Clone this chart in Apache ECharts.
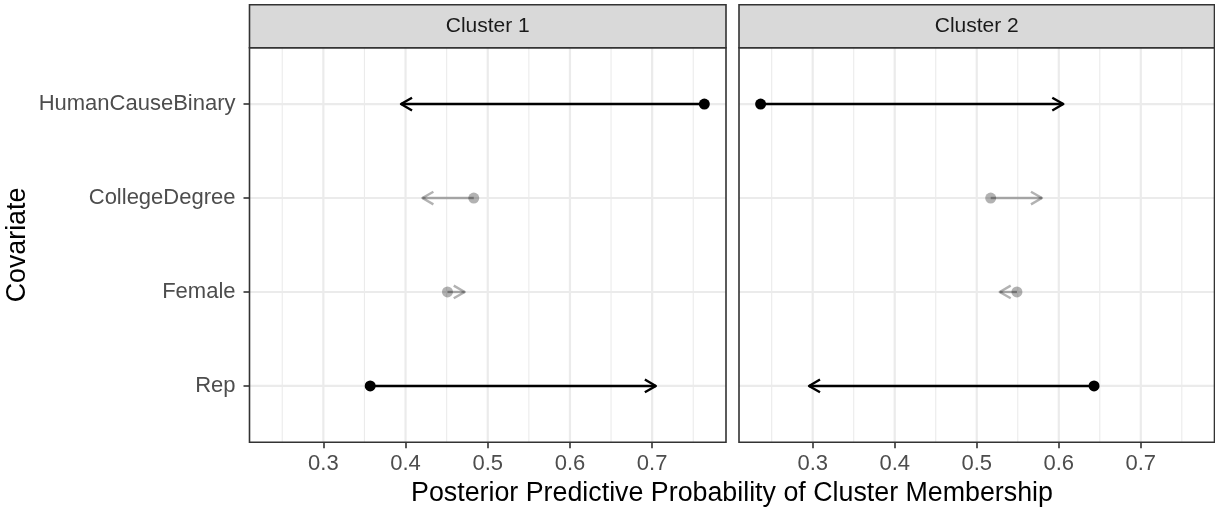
<!DOCTYPE html>
<html>
<head>
<meta charset="utf-8">
<script src="https://cdn.jsdelivr.net/npm/echarts@6/dist/echarts.min.js"></script>
<style>
  html, body { margin: 0; padding: 0; background: #fff; }
  #chart { width: 1215px; height: 508px; }
</style>
</head>
<body>
<div id="chart"></div>
<script>
// Covariates, bottom to top on the y axis
const covariates = ['Rep', 'Female', 'CollegeDegree', 'HumanCauseBinary'];
const significant = [true, false, false, true];

// Posterior predictive probability: baseline (dot) and shifted value (arrow tip)
const cluster1From = [0.357, 0.451, 0.483, 0.7635];
const cluster1To   = [0.7045, 0.472, 0.4205, 0.3945];
const cluster2From = [0.643, 0.549, 0.517, 0.2365];
const cluster2To   = [0.2955, 0.528, 0.5795, 0.6055];

const panelTitles = ['Cluster 1', 'Cluster 2'];
const majorTicks = [0.3, 0.4, 0.5, 0.6, 0.7];
const minorTicks = [0.25, 0.35, 0.45, 0.55, 0.65, 0.75];

const FONT = '"Liberation Sans", Arial, Helvetica, sans-serif';

// shared x range with 5% padding on each side
const allVals = cluster1From.concat(cluster1To, cluster2From, cluster2To);
const lo = Math.min.apply(null, allVals), hi = Math.max.apply(null, allVals);
const pad = (hi - lo) * 0.05;
const xMin = lo - pad, xMax = hi + pad;
const yMin = 0.4, yMax = covariates.length + 0.6;

const panels = [
  { left: 249.5, width: 476.5 },
  { left: 739, width: 475.5 }
];
const panelTop = 47.7, panelBottom = 442.3;
const stripTop = 4.7;

function arrowRows(from, to) {
  return covariates.map((c, i) => [from[i], to[i], i + 1, significant[i] ? 1 : 0]);
}

const gridRows = majorTicks.map(v => [v, 1])
  .concat(minorTicks.map(v => [v, 0]))
  .concat(covariates.map((c, i) => [i + 1, 2]));

function renderGrid(params, api) {
  const cs = params.coordSys;
  const v = api.value(0), kind = api.value(1);
  if (kind === 2) {
    const y = api.coord([xMin, v])[1];
    return { type: 'line', shape: { x1: cs.x, y1: y, x2: cs.x + cs.width, y2: y },
      style: { stroke: '#EBEBEB', lineWidth: 2.2 } };
  }
  const x = api.coord([v, 1])[0];
  return { type: 'line', shape: { x1: x, y1: cs.y, x2: x, y2: cs.y + cs.height },
    style: { stroke: '#EBEBEB', lineWidth: kind === 1 ? 2.2 : 1.1 } };
}

function renderArrow(params, api) {
  const from = api.value(0), to = api.value(1), y = api.value(2), sig = api.value(3);
  const p0 = api.coord([from, y]);
  const p1 = api.coord([to, y]);
  const color = sig ? '#000000' : 'rgba(0,0,0,0.3)';
  const dir = p1[0] >= p0[0] ? 1 : -1;
  const L = 12.7, ang = Math.PI / 6;
  const bx = p1[0] - dir * L * Math.cos(ang);
  const dy = L * Math.sin(ang);
  return {
    type: 'group',
    children: [
      { type: 'line', shape: { x1: p0[0], y1: p0[1], x2: p1[0], y2: p1[1] },
        style: { stroke: color, lineWidth: 2.4 } },
      { type: 'polyline', shape: { points: [[bx, p1[1] - dy], [p1[0], p1[1]], [bx, p1[1] + dy]] },
        style: { stroke: color, lineWidth: 2.4, fill: null, lineJoin: 'round' } },
      { type: 'circle', shape: { cx: p0[0], cy: p0[1], r: 5.5 },
        style: { fill: color } }
    ]
  };
}

const grids = panels.map(p => ({
  left: p.left, width: p.width, top: panelTop, height: panelBottom - panelTop,
  show: true, backgroundColor: '#FFFFFF', borderWidth: 0
}));

const xAxes = panels.map((p, i) => ({
  type: 'value', gridIndex: i, min: xMin, max: xMax,
  axisLine: { show: false },
  splitLine: { show: false },
  axisTick: { show: true, customValues: majorTicks, length: 6, lineStyle: { color: '#333333', width: 1.6 } },
  axisLabel: { show: true, customValues: majorTicks, color: '#4D4D4D', fontSize: 22, fontFamily: FONT, margin: 11,
    formatter: v => v.toFixed(1) }
}));

const yAxes = panels.map((p, i) => ({
  type: 'value', gridIndex: i, min: yMin, max: yMax,
  axisLine: { show: false },
  splitLine: { show: false },
  axisTick: { show: i === 0, customValues: covariates.map((c, k) => k + 1), length: 6,
    lineStyle: { color: '#333333', width: 1.6 } },
  axisLabel: { show: i === 0, customValues: covariates.map((c, k) => k + 1), color: '#4D4D4D',
    fontSize: 22, fontFamily: FONT, margin: 14,
    formatter: v => covariates[Math.round(v) - 1] || '' }
}));

const series = [];
panels.forEach((p, i) => {
  series.push({
    type: 'custom', xAxisIndex: i, yAxisIndex: i, clip: false, silent: true, z: 1,
    dimensions: ['v', 'kind'], encode: { x: 'v' },
    data: gridRows, renderItem: renderGrid
  });
});
[[cluster1From, cluster1To], [cluster2From, cluster2To]].forEach((pair, i) => {
  series.push({
    type: 'custom', xAxisIndex: i, yAxisIndex: i, clip: false, silent: true, z: 5,
    dimensions: ['from', 'to', 'y', 'sig'], encode: { x: [0, 1], y: 2 },
    data: arrowRows(pair[0], pair[1]), renderItem: renderArrow
  });
});

// facet strips and panel borders
const graphics = [];
panels.forEach((p, i) => {
  graphics.push({
    type: 'rect', z: 100,
    shape: { x: p.left, y: stripTop, width: p.width, height: panelTop - stripTop },
    style: { fill: '#D9D9D9', stroke: '#333333', lineWidth: 1.6 }
  });
  graphics.push({
    type: 'text', z: 101, x: p.left + p.width / 2, y: (stripTop + panelTop) / 2,
    style: { text: panelTitles[i], fill: '#1A1A1A', font: '21px ' + FONT, align: 'center', verticalAlign: 'middle' }
  });
  graphics.push({
    type: 'rect', z: 100,
    shape: { x: p.left, y: panelTop, width: p.width, height: panelBottom - panelTop },
    style: { fill: null, stroke: '#333333', lineWidth: 1.6 }
  });
});
graphics.push({
  type: 'text', z: 101, x: (panels[0].left + panels[1].left + panels[1].width) / 2, y: 494,
  style: { text: 'Posterior Predictive Probability of Cluster Membership', fill: '#000000',
    font: '26.8px ' + FONT, align: 'center', verticalAlign: 'middle' }
});
graphics.push({
  type: 'text', z: 101, x: 18, y: 245, rotation: Math.PI / 2,
  style: { text: 'Covariate', fill: '#000000', font: '26.8px ' + FONT, align: 'center', verticalAlign: 'middle' }
});

const chart = echarts.init(document.getElementById('chart'), null, { renderer: 'canvas' });
chart.setOption({
  animation: false,
  backgroundColor: '#FFFFFF',
  grid: grids,
  xAxis: xAxes,
  yAxis: yAxes,
  series: series,
  graphic: graphics
});
</script>
</body>
</html>
